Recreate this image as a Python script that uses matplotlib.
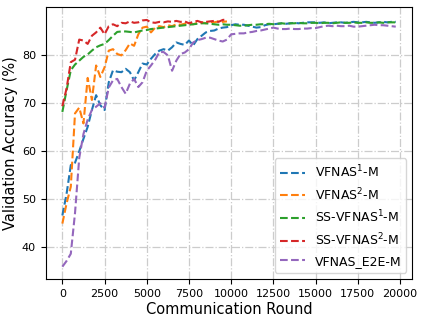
import numpy as np
import matplotlib
matplotlib.use("Agg")
import matplotlib.pyplot as plt

# communication rounds (every 250 rounds)
rounds = np.arange(0, 20000, 250)
rounds_short = rounds[:40]

vfnas1 = [46.5, 51.0, 57.0, 57.5, 59.9, 62.5, 65.0, 68.5, 71.6, 69.5,
          68.5, 74.3, 76.8, 76.5, 76.4, 77.1, 76.4, 74.7, 76.4, 78.2,
          78.0, 79.2, 80.2, 80.9, 81.2, 80.9, 81.6, 82.6, 82.3, 82.1,
          83.0, 82.0, 83.3, 84.0, 84.7, 85.0, 85.1, 85.5, 85.7, 85.8,
          86.2, 86.4, 86.3, 86.3, 86.1, 85.9, 85.7, 85.8, 86.2, 86.4,
          86.4, 86.5, 86.6, 86.5, 86.6, 86.7, 86.6, 86.7, 86.8, 86.8,
          86.8, 86.7, 86.8, 86.6, 86.7, 86.8, 86.8, 86.7, 86.8, 86.9,
          86.8, 86.8, 86.9, 86.8, 86.7, 86.8, 86.9, 86.8, 86.9, 86.9]

vfnas2 = [44.8, 49.0, 52.5, 67.8, 69.0, 65.7, 75.2, 70.6, 77.8, 75.4,
          77.4, 80.9, 81.2, 80.2, 79.9, 81.0, 82.4, 81.9, 84.3, 85.7,
          85.9, 84.7, 85.7, 86.0, 85.8, 86.2, 86.0, 86.4, 86.3, 86.5,
          86.6, 86.4, 86.7, 86.8, 86.6, 86.9, 86.8, 87.0, 86.9, 87.0]

ss_vfnas1 = [68.1, 72.6, 76.8, 78.0, 78.8, 79.6, 80.1, 80.9, 81.6, 82.0,
             82.3, 83.1, 84.0, 84.8, 84.9, 84.9, 84.8, 84.7, 84.9, 85.1,
             85.2, 85.4, 85.5, 85.6, 85.7, 85.8, 85.9, 86.0, 86.1, 86.2,
             86.3, 86.4, 86.5, 86.6, 86.6, 86.5, 86.4, 86.3, 86.4, 86.3,
             86.3, 86.2, 86.1, 86.1, 86.2, 86.3, 86.3, 86.4, 86.4, 86.5,
             86.4, 86.5, 86.6, 86.5, 86.6, 86.6, 86.7, 86.6, 86.6, 86.7,
             86.7, 86.6, 86.7, 86.7, 86.6, 86.7, 86.8, 86.7, 86.7, 86.8,
             86.7, 86.7, 86.8, 86.7, 86.7, 86.8, 86.7, 86.8, 86.8, 86.8]

ss_vfnas2 = [69.3, 73.0, 78.5, 79.0, 83.2, 83.0, 82.3, 84.0, 84.7, 85.7,
             84.3, 86.0, 86.4, 86.0, 86.7, 86.6, 87.0, 86.7, 86.8, 87.2,
             87.3, 86.8, 86.7, 86.9, 86.8, 87.0, 86.9, 87.1, 86.9, 87.0,
             86.6, 86.9, 87.1, 86.8, 86.9, 87.0, 87.1, 86.9, 87.3, 87.4]

vfnas_e2e = [35.8, 37.0, 38.5, 47.0, 58.5, 63.5, 66.5, 68.5, 69.2, 69.9,
             69.0, 73.2, 74.7, 75.0, 73.3, 71.9, 74.0, 75.0, 73.3, 74.3,
             76.7, 77.8, 79.0, 80.6, 80.6, 79.9, 76.7, 78.8, 80.2, 80.5,
             81.2, 82.6, 83.1, 83.3, 83.6, 83.6, 83.3, 83.0, 82.8, 83.2,
             84.3, 84.4, 84.5, 84.5, 84.7, 84.8, 85.0, 85.1, 85.3, 85.5,
             85.7, 85.5, 85.4, 85.4, 85.5, 85.4, 85.4, 85.5, 85.5, 85.6,
             85.6, 85.8, 86.0, 86.1, 86.0, 86.1, 86.0, 86.0, 86.1, 85.9,
             85.9, 86.0, 86.1, 86.2, 86.3, 86.2, 86.2, 86.1, 86.0, 85.9]

series = [
    ("VFNAS$^1$-M", rounds, vfnas1),
    ("VFNAS$^2$-M", rounds_short, vfnas2),
    ("SS-VFNAS$^1$-M", rounds, ss_vfnas1),
    ("SS-VFNAS$^2$-M", rounds_short, ss_vfnas2),
    ("VFNAS_E2E-M", rounds, vfnas_e2e),
]

fig = plt.figure(figsize=(4.23, 3.23), dpi=100)
ax = fig.add_axes([0.108, 0.136, 0.867, 0.842])

for name, x, y in series:
    ax.plot(x, y, '--', linewidth=1.5, label=name)

ax.set_xticks([0, 2500, 5000, 7500, 10000, 12500, 15000, 17500, 20000])
ax.set_yticks([40, 50, 60, 70, 80])
ax.tick_params(labelsize=8)
ax.set_xlabel("Communication Round", fontsize=10.5, labelpad=2)
ax.set_ylabel("Validation Accuracy (%)", fontsize=10.5, labelpad=3)
ax.grid(True, linestyle='-.', color='#cccccc', linewidth=0.9)
ax.legend(loc='lower right', fontsize=9)

fig.savefig("out.png", dpi=100)
